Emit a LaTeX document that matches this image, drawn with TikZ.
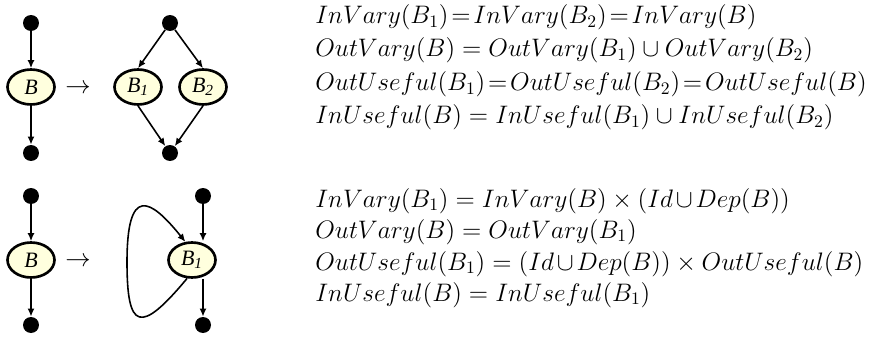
\documentclass[tikz,border=0pt]{standalone}
\usepackage{fontspec}
\newfontfamily\blockfont{Liberation Serif}
\usetikzlibrary{positioning, shapes.geometric, arrows.meta}
\definecolor{blockfill}{RGB}{255,255,222}
\newcommand{\teq}{\mkern2mu{=}\mkern2mu}

\begin{document}
\begin{tikzpicture}[x=0.02cm, y=-0.02cm,
    arr/.style={-{Latex[length=1.6mm, width=1.4mm]}, line width=0.9pt},
    dot/.style={circle, fill=black, inner sep=0pt, minimum size=3.2mm},
    blk/.style={ellipse, draw, line width=1.5pt, fill=blockfill,
        inner sep=0pt, minimum width=9.4mm, minimum height=7mm,
        font=\blockfont\itshape\fontsize{12.5}{14}\selectfont},
    eqn/.style={anchor=base west, inner sep=0pt,
        font=\fontsize{14.4}{17}\selectfont},
    tr/.style={inner sep=0pt, font=\fontsize{14.4}{17}\selectfont},
  ]
  \useasboundingbox (0,0) rectangle (869,341);

  %% -- sequence: B -> B1 ; B2 -------------------------------------------
  \node[dot] at (31, 23)  (topA) {};
  \node[blk] at (31, 87)  (bA)   {B};
  \node[dot] at (31, 153) (botA) {};
  \node[tr]  at (78, 89)  (toA)  {$\rightarrow$};

  \node[dot] at (170, 23)  (topS) {};
  \node[blk] at (138, 87)  (bS1)  {B\textsubscript{1}};
  \node[blk] at (203, 87)  (bS2)  {B\textsubscript{2}};
  \node[dot] at (170, 153) (botS) {};

  \draw[arr] (topA) -- (bA);
  \draw[arr] (bA)   -- (botA);
  \draw[arr] (topS) -- (bS1.north);
  \draw[arr] (topS) -- (bS2.north);
  \draw[arr] (bS1.south) -- (botS);
  \draw[arr] (bS2.south) -- (botS);

  %% -- loop: B -> B1 with back edge ----------------------------------------
  \node[dot] at (31, 196) (topB) {};
  \node[blk] at (31, 260) (bB)   {B};
  \node[dot] at (31, 325) (botB) {};
  \node[tr]  at (78, 262) (toB)  {$\rightarrow$};

  \node[dot] at (203, 196) (topL) {};
  \node[blk] at (192, 260) (bL)   {B\textsubscript{1}};
  \node[dot] at (203, 325) (botL) {};
  \coordinate (loopW) at (127, 262);

  \draw[arr] (topB) -- (bB);
  \draw[arr] (bB)   -- (botB);
  \draw[arr] (topL) -- (bL.north -| topL);
  \draw[arr] (bL.south -| botL) -- (botL);
  \draw[arr] (bL.255) .. controls (140, 335) and (127, 330) .. (loopW)
    .. controls (127, 185) and (150, 198) .. (bL.110);

  %% -- equations ------------------------------------------------------------
  \node[eqn] at (315, 24)  (eqS1)
  {$InVary(B_1)\teq InVary(B_2)\teq InVary(B)$};
  \node[eqn] at (315, 57)  (eqS2)
  {$OutVary(B) = OutVary(B_1) \cup OutVary(B_2)$};
  \node[eqn] at (315, 91)  (eqS3)
  {$OutUseful(B_1)\teq OutUseful(B_2)\teq OutUseful(B)$};
  \node[eqn] at (315, 124) (eqS4)
  {$InUseful(B) = InUseful(B_1) \cup InUseful(B_2)$};

  \node[eqn] at (315, 207) (eqL1)
  {$InVary(B_1) = InVary(B) \times (Id\mkern2mu{\cup}\mkern2mu Dep(B))$};
  \node[eqn] at (315, 238) (eqL2)
  {$OutVary(B) = OutVary(B_1)$};
  \node[eqn] at (315, 270) (eqL3)
  {$OutUseful(B_1) = (Id\mkern2mu{\cup}\mkern2mu Dep(B)) \times OutUseful(B)$};
  \node[eqn] at (315, 301) (eqL4)
  {$InUseful(B) = InUseful(B_1)$};
\end{tikzpicture}
\end{document}
